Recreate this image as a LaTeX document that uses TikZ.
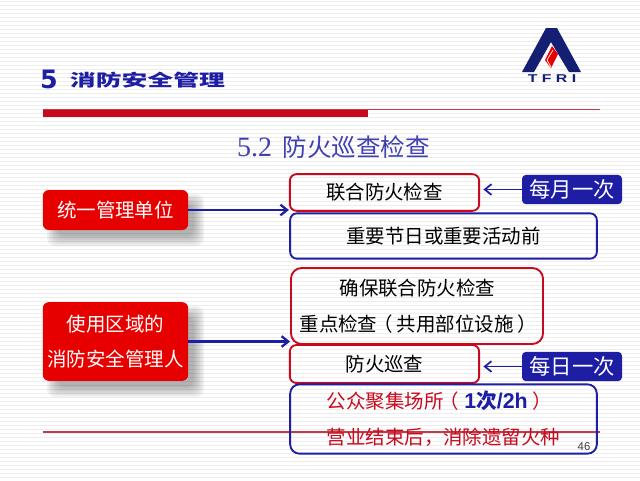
\documentclass[tikz,border=0pt]{standalone}
\usepackage{fontspec}
\usepackage{graphicx}
\setmainfont{Noto Sans CJK SC}
\newfontfamily\serifa{Liberation Serif}
\newfontfamily\sansa{Liberation Sans}
\newfontfamily\sansb{DejaVu Sans}
\usetikzlibrary{arrows.meta}
\definecolor{blu}{RGB}{30,30,165}
\definecolor{notte}{RGB}{20,30,115}
\definecolor{rosso}{RGB}{230,0,0}
\definecolor{bordo}{RGB}{200,10,30}
\definecolor{tratto}{RGB}{190,60,70}
\begin{document}
\begin{tikzpicture}[
		x=0.75pt, y=-0.75pt,
		riga/.style={line width=0.75pt, gray!14},
		ombra/.style={black, opacity=0.055, rounded corners=6pt},
		capo/.style={fill=rosso, rounded corners=4.5pt, text=white,
			font=\fontsize{14.6pt}{26pt}\selectfont, align=center,
			minimum width=109pt, inner sep=0pt},
		rossa/.style={draw=bordo, line width=1.4pt, rounded corners=5pt,
			inner sep=0pt, font=\fontsize{14.6pt}{27pt}\selectfont},
		blua/.style={draw=blu, line width=1.4pt, rounded corners=5pt,
			inner sep=0pt, font=\fontsize{14.6pt}{27pt}\selectfont},
		freq/.style={fill=blu, text=white, rounded corners=3pt, inner sep=0pt,
			minimum width=75pt, minimum height=22pt,
			font=\fontsize{16pt}{18pt}\selectfont},
		freccia/.style={blu, line width=1.7pt, -{Straight Barb[length=5pt,width=8pt]}},
		]
		\useasboundingbox (0,0) rectangle (640,480);
		\fill[white] (0,0) rectangle (640,480);
		\foreach \y in {1,5,...,478}
		\draw[riga] (0,\y)--(640,\y);
		
		\node[text=blu, font=\sansb\bfseries\fontsize{19pt}{20pt}\selectfont] (cinque) at (49,79) {5};
		\node[text=blu, font=\bfseries\fontsize{12.5pt}{20pt}\selectfont] (titolo) at (147.5,80) {\scalebox{1.55}[1]{消防安全管理}};
		\node[text=blu!85!white, font=\fontsize{18.4pt}{20pt}\selectfont] (sezione) at (333.5,147) {{\serifa\fontsize{21pt}{20pt}\selectfont 5.2}\hspace{8pt}防火巡查检查};
		
		\fill[bordo] (43,110) rectangle (368,117);
		\draw[tratto, line width=0.8pt] (43,109.5)--(600,109.5);
		\draw[tratto, line width=0.8pt] (43,432)--(600,432);
		
		\fill[notte] (546,28)--(557,28)--(581,72)--(569,72)--(551,42)--(534,72)--(522,72)--cycle;
		\fill[rosso] (545,60)--(552,46)--(558,54)--(551,68)--cycle;
		\draw[white, line width=0.5pt] (553,50)--(547,60)--(551,67);
		\node[text=notte, font=\sansa\bfseries\fontsize{8.5pt}{8pt}\selectfont] (sigla) at (552,79) {\scalebox{1.4}[1]{T F R I}};
		
		\foreach \a/\b/\c/\d in {43/190/188/230, 43/302/188/381}
		\foreach \g in {-4,-2,...,6}
		\fill[ombra] (\a+10-\g,\b+10-\g) rectangle (\c+10+\g,\d+10+\g);
		
		\node[capo, minimum height=30pt] (unico) at (115.5,210) {\raisebox{1.5pt}{统一管理单位}};
		\node[capo, minimum height=59pt] (uso) at (115.5,341.5) {\raisebox{3pt}{\parbox{109pt}{\centering 使用区域的\\消防安全管理人}}};
		
		\node[rossa, minimum width=142pt, minimum height=27.5pt] (mensile) at (384.5,192.5) {联合防火检查};
		\node[blua, minimum width=230pt, minimum height=34pt] (feste) at (443.5,236) {重要节日或重要活动前};
		\node[rossa, rounded corners=8pt, minimum width=189pt, minimum height=57pt, align=left] (chiave) at (417,306) {\hspace{32pt}确保联合防火检查\\\hspace{2pt}重点检查\hspace{-3pt}（\hspace{3pt}共用部位设施\hspace{3pt}）\hspace{-3pt}};
		\node[rossa, minimum width=142pt, minimum height=28.5pt] (ronda) at (384.5,364) {\raisebox{1.5pt}{防火巡查}};
		\node[blua, rounded corners=7pt, minimum width=230pt, minimum height=52pt, align=left] (pubblico) at (443.5,419) {\textcolor{bordo}{公众聚集场所\hspace{-3pt}（\hspace{4pt}}\textcolor{blu}{\sansa\bfseries\fontsize{16pt}{27pt}\selectfont 1}\textcolor{blu}{\bfseries\fontsize{15.5pt}{27pt}\selectfont 次}\textcolor{blu}{\sansa\bfseries\fontsize{16pt}{27pt}\selectfont /2h}\textcolor{bordo}{\hspace{4pt}）}\\\textcolor{bordo}{营业结束后，消除遗留火种}};
		
		\node[freq] (mese) at (572,189.5) {\raisebox{-1.5pt}{每月一次}};
		\node[freq] (giorno) at (572,366.5) {\raisebox{-1.5pt}{每日一次}};
		
		\draw[freccia] (unico.east)--(unico.east -| mensile.west);
		\draw[freccia] (uso.east)--(uso.east -| chiave.west);
		\draw[freccia, line width=1.3pt] (mese.west)--([xshift=2.5pt]mensile.east |- mese.west);
		\draw[freccia, line width=1.3pt] (giorno.west)--([xshift=2.5pt]ronda.east |- giorno.west);
		
		\node[text=black!75, font=\sansa\fontsize{8.5pt}{9pt}\selectfont] (pagina) at (584,447) {46};
	\end{tikzpicture}
\end{document}
